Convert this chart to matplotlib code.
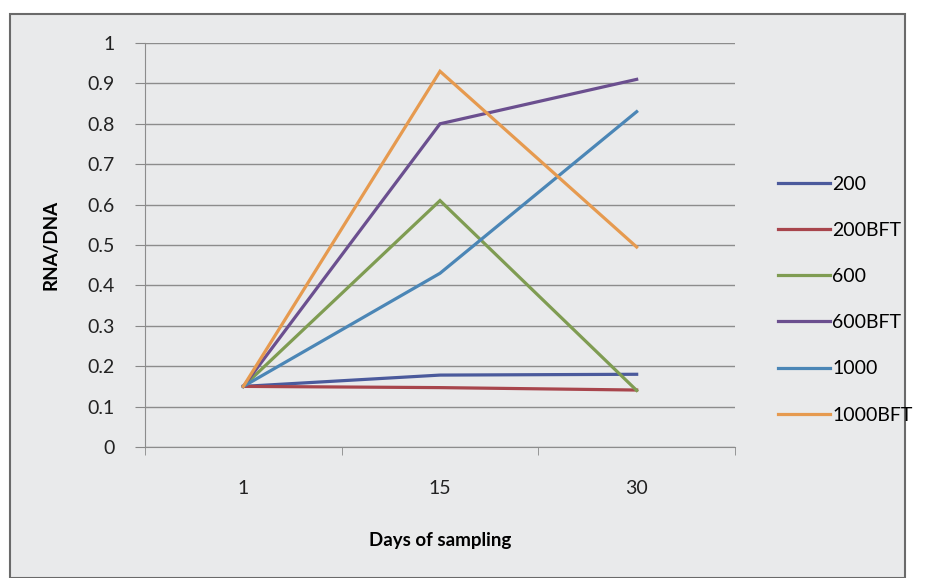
import numpy as np
import matplotlib.pyplot as plt
from matplotlib.patches import Rectangle

plt.rcParams['font.family'] = ['Lato', 'DejaVu Sans']

# data
days = ["1", "15", "30"]
s200 = [0.15, 0.178, 0.18]
s200bft = [0.15, 0.147, 0.141]
s600 = [0.15, 0.61, 0.14]
s600bft = [0.15, 0.80, 0.91]
s1000 = [0.15, 0.43, 0.83]
s1000bft = [0.15, 0.93, 0.495]

series = [("200", s200, "#4b5a9c"),
          ("200BFT", s200bft, "#a8454c"),
          ("600", s600, "#7f9c52"),
          ("600BFT", s600bft, "#6b4f8f"),
          ("1000", s1000, "#4b86b6"),
          ("1000BFT", s1000bft, "#e69a4f")]

W, H = 935, 578
fig = plt.figure(figsize=(W / 100, H / 100), dpi=100)
fig.patch.set_facecolor("white")

# scanned page background with border
fig.patches.append(Rectangle((10 / W, 0), 895 / W, (H - 14) / H, transform=fig.transFigure,
                             facecolor="#e9eaeb", edgecolor="#6a6a6a", lw=1.5, zorder=-5))

ax = fig.add_axes([145 / W, (H - 447) / H, 590 / W, (447 - 43) / H])
ax.set_facecolor("none")

x = np.arange(len(days))
for name, vals, col in series:
    ax.plot(x, vals, color=col, lw=2.3, label=name, solid_joinstyle="miter")

ax.set_xlim(-0.5, len(days) - 0.5)
ax.set_ylim(0, 1)
ax.set_yticks(np.arange(0, 1.01, 0.1))
ax.set_yticklabels(["0", "0.1", "0.2", "0.3", "0.4", "0.5", "0.6", "0.7", "0.8", "0.9", "1"])
ax.set_xticks(x)
ax.set_xticklabels(days)
ax.set_xticks(np.arange(-0.5, len(days), 1), minor=True)
ax.tick_params(axis="x", which="major", length=0, pad=24, labelsize=14, colors="#222222")
ax.tick_params(axis="x", which="minor", length=6, color="#888888", direction="out")
ax.tick_params(axis="y", length=7, color="#888888", pad=15, labelsize=14, labelcolor="#222222")
ax.grid(axis="y", color="#8c8c8c", lw=1)
ax.set_axisbelow(True)
for side in ["top", "right"]:
    ax.spines[side].set_visible(False)
for side in ["left", "bottom"]:
    ax.spines[side].set_color("#8c8c8c")

ax.set_ylabel("RNA/DNA", fontsize=13.5, fontweight="bold", labelpad=20)
ax.set_xlabel("Days of sampling", fontsize=13.5, fontweight="bold", labelpad=25)

fig.legend(loc="upper left", bbox_to_anchor=(770 / W, 1 - 168 / H), frameon=False,
           fontsize=14, handlelength=2.7, handletextpad=0.1, labelspacing=1.5,
           borderaxespad=0)

fig.savefig("out.png", dpi=100)
